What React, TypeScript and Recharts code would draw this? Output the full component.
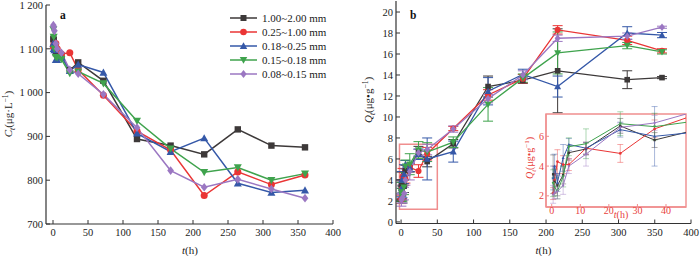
import React from 'react';
import { LineChart, Line, XAxis, YAxis, ErrorBar, ReferenceArea } from 'recharts';

const sizeLabels = ['1.00~2.00 mm', '0.25~1.00 mm', '0.18~0.25 mm', '0.15~0.18 mm', '0.08~0.15 mm'];
const seriesColors = ['#3d3939', '#ea3535', '#3558a8', '#3fa34d', '#9b77c2'];
const seriesShapes = ['square', 'circle', 'up', 'down', 'diamond'];

// panel a: concentration C_t (µg/L)
const ctTimes = [0.5, 1, 2, 4, 6, 12, 24, 36, 72, 120, 168, 216, 264, 312, 360];
const ctBlack = [1123, 1120, 1104, 1090, 1088, 1085, 1051, 1069, 1027, 894, 879, 859, 916, 879, 875];
const ctRed = [1104, 1108, 1110, 1112, 1100, 1088, 1091, 1052, 994, 912, 869, 765, 819, 790, 812];
const ctBlue = [1112, 1100, 1097, 1075, 1075, 1081, 1050, 1064, 1046, 907, 865, 896, 793, 772, 777];
const ctGreen = [1144, 1127, 1100, 1081, 1080, 1076, 1044, 1048, 1021, 935, 872, 818, 829, 800, 815];
const ctPurple = [1154, 1150, 1141, 1112, 1100, 1091, 1052, 1043, 996, 920, 822, 784, 802, 780, 759];
const ctXTicks = [0, 50, 100, 150, 200, 250, 300, 350, 400];
const ctYTicks = [700, 800, 900, 1000, 1100, 1200];

// panel b: adsorbed amount Q_t (µg/g) with error bars
const qtTimes = [0.5, 1, 2, 4, 6, 12, 24, 36, 72, 120, 168, 216, 312, 360];
const qtBlack = [3.45, 3.0, 2.7, 3.4, 4.9, 5.15, 6.7, 5.75, 7.45, 12.9, 13.5, 14.4, 13.55, 13.75];
const qtRed = [2.15, 3.1, 4.3, 4.1, 4.1, 5.2, 4.85, 6.5, 8.9, 12.1, 13.65, 18.3, 17.3, 16.3];
const qtBlue = [3.2, 4.0, 2.9, 4.55, 5.45, 5.2, 6.45, 6.0, 6.7, 12.45, 14.05, 12.9, 18.0, 17.8];
const qtGreen = [2.85, 2.6, 2.3, 3.3, 5.3, 5.5, 6.85, 6.65, 7.6, 11.2, 13.7, 16.1, 16.8, 16.2];
const qtPurple = [2.1, 2.2, 2.3, 2.7, 4.0, 4.8, 6.6, 6.9, 8.85, 11.75, 14.0, 17.5, 17.7, 18.55];
const qtBlackErr = [1.3, 0.8, 0.7, 0.6, 0.5, 0.4, 0.5, 0.5, 0.4, 1.0, 0.3, 4.0, 0.85, 0.1];
const qtRedErr = [0.4, 0.9, 0.8, 0.6, 0.4, 0.4, 0.6, 0.6, 0.2, 0.5, 0.4, 0.4, 0.4, 0.2];
const qtBlueErr = [0.8, 0.8, 0.6, 0.9, 0.4, 0.4, 0.5, 2.0, 1.0, 1.3, 0.5, 1.0, 0.6, 0.25];
const qtGreenErr = [0.9, 0.6, 0.5, 0.7, 0.6, 1.0, 0.8, 0.9, 0.5, 1.6, 0.4, 2.0, 0.3, 0.2];
const qtPurpleErr = [0.6, 0.4, 0.5, 0.6, 0.5, 0.8, 0.3, 0.5, 0.3, 0.4, 0.4, 0.3, 0.3, 0.1];
const qtXTicks = [0, 50, 100, 150, 200, 250, 300, 350, 400];
const qtYTicks = [0, 2, 4, 6, 8, 10, 12, 14, 16, 18, 20];
const insetXTicks = [0, 10, 20, 30, 40];
const insetYTicks = [2, 4, 6];

const ctSeries = [ctBlack, ctRed, ctBlue, ctGreen, ctPurple];
const qtSeries = [qtBlack, qtRed, qtBlue, qtGreen, qtPurple];
const qtErrors = [qtBlackErr, qtRedErr, qtBlueErr, qtGreenErr, qtPurpleErr];

const ctData = ctTimes.map((t, i) => {
  const row: Record<string, number> = { t };
  ctSeries.forEach((s, k) => { row[`s${k}`] = s[i]; });
  return row;
});

const qtData = qtTimes.map((t, i) => {
  const row: Record<string, number> = { t };
  qtSeries.forEach((s, k) => {
    row[`s${k}`] = s[i];
    row[`e${k}`] = qtErrors[k][i];
  });
  return row;
});

const insetData = qtData.filter((d) => d.t <= 72);

const serif = '"Liberation Serif", "Times New Roman", serif';
const axisColor = '#333';
const insetRed = '#e8413c';
const insetBox = '#f08e8e';
const tickFont = { fontSize: 10.5, fill: '#1a1a1a', fontFamily: serif };
const insetTickFont = { fontSize: 10, fill: insetRed, fontFamily: serif };

type MarkProps = { cx?: number; cy?: number; shape: string; color: string; r: number };

const Mark = ({ cx, cy, shape, color, r }: MarkProps) => {
  if (cx == null || cy == null || isNaN(cx) || isNaN(cy)) return null;
  if (shape === 'square') return <rect x={cx - r} y={cy - r} width={2 * r} height={2 * r} fill={color} />;
  if (shape === 'circle') return <circle cx={cx} cy={cy} r={r * 1.1} fill={color} />;
  if (shape === 'up') {
    const h = r * 1.25;
    return <polygon points={`${cx},${cy - h} ${cx + h},${cy + h * 0.8} ${cx - h},${cy + h * 0.8}`} fill={color} />;
  }
  if (shape === 'down') {
    const h = r * 1.25;
    return <polygon points={`${cx},${cy + h} ${cx + h},${cy - h * 0.8} ${cx - h},${cy - h * 0.8}`} fill={color} />;
  }
  return <polygon points={`${cx},${cy - r * 1.35} ${cx + r * 1.05},${cy} ${cx},${cy + r * 1.35} ${cx - r * 1.05},${cy}`} fill={color} />;
};

const fmtThousands = (v: number) =>
  v >= 1000 ? `${Math.floor(v / 1000)} ${String(v % 1000).padStart(3, '0')}` : String(v);

const frameAxes = (stroke: string, width: number, xDomain: number[], yDomain: number[]) => [
  <XAxis key="fx" xAxisId="top" orientation="top" type="number" domain={xDomain} height={0} tick={false} tickLine={false} axisLine={{ stroke, strokeWidth: width }} />,
  <YAxis key="fy" yAxisId="right" orientation="right" type="number" domain={yDomain} width={0} tick={false} tickLine={false} axisLine={{ stroke, strokeWidth: width }} />,
];

const PanelA = () => (
  <LineChart width={350} height={256} data={ctData} margin={{ top: 5, right: 17, bottom: 0, left: 0 }} style={{ fontFamily: serif }}>
    <XAxis dataKey="t" type="number" domain={[-10, 400]} ticks={ctXTicks} interval={0} allowDataOverflow height={32}
      tickSize={-4} tickMargin={9} tick={tickFont} axisLine={{ stroke: axisColor, strokeWidth: 1.2 }} tickLine={{ stroke: axisColor }} />
    <YAxis type="number" domain={[700, 1200]} ticks={ctYTicks} interval={0} allowDataOverflow width={46}
      tickSize={-4} tickMargin={7} tick={tickFont} tickFormatter={fmtThousands}
      axisLine={{ stroke: axisColor, strokeWidth: 1.2 }} tickLine={{ stroke: axisColor }} />
    {frameAxes(axisColor, 1.2, [-10, 400], [700, 1200])}
    {ctSeries.map((_, k) => (
      <Line key={k} dataKey={`s${k}`} stroke={seriesColors[k]} strokeWidth={1.5} isAnimationActive={false} activeDot={false}
        dot={(p: any) => <Mark key={`a${k}-${p.index}`} cx={p.cx} cy={p.cy} shape={seriesShapes[k]} color={seriesColors[k]} r={3.2} />} />
    ))}
  </LineChart>
);

const PanelB = () => (
  <LineChart width={350} height={256} data={qtData} margin={{ top: 1, right: 9, bottom: 0, left: 0 }} style={{ fontFamily: serif }}>
    <XAxis dataKey="t" type="number" domain={[-7, 400]} ticks={qtXTicks} interval={0} allowDataOverflow height={32.5}
      tickSize={-4} tickMargin={9} tick={tickFont} axisLine={{ stroke: axisColor, strokeWidth: 1.2 }} tickLine={{ stroke: axisColor }} />
    <YAxis type="number" domain={[-0.15, 21.05]} ticks={qtYTicks} interval={0} allowDataOverflow width={46}
      tickSize={-4} tickMargin={7} tick={tickFont} axisLine={{ stroke: axisColor, strokeWidth: 1.2 }} tickLine={{ stroke: axisColor }} />
    {frameAxes(axisColor, 1.2, [-7, 400], [-0.15, 21.05])}
    <ReferenceArea x1={-2.2} x2={50} y1={1.2} y2={7.4} fill="none" stroke={insetBox} strokeWidth={1.5} />
    {qtSeries.map((_, k) => (
      <Line key={k} dataKey={`s${k}`} stroke={seriesColors[k]} strokeWidth={1.3} isAnimationActive={false} activeDot={false}
        dot={(p: any) => <Mark key={`b${k}-${p.index}`} cx={p.cx} cy={p.cy} shape={seriesShapes[k]} color={seriesColors[k]} r={2.8} />}>
        <ErrorBar dataKey={`e${k}`} width={5} stroke={seriesColors[k]} strokeWidth={1} direction="y" isAnimationActive={false} />
      </Line>
    ))}
  </LineChart>
);

const Inset = () => (
  <LineChart width={170} height={125} data={insetData} margin={{ top: 14, right: 4, bottom: 0, left: 0 }} style={{ fontFamily: serif }}>
    <XAxis dataKey="t" type="number" domain={[-2, 47]} ticks={insetXTicks} interval={0} allowDataOverflow height={18}
      tickSize={-3} tickMargin={3} tick={insetTickFont} axisLine={{ stroke: insetBox, strokeWidth: 1.3 }} tickLine={{ stroke: insetBox }} />
    <YAxis type="number" domain={[1.25, 7.5]} ticks={insetYTicks} interval={0} allowDataOverflow width={26}
      tickSize={-3} tickMargin={5} tick={insetTickFont} axisLine={{ stroke: insetBox, strokeWidth: 1.3 }} tickLine={{ stroke: insetBox }} />
    <ReferenceArea x1={-2} x2={47} y1={1.25} y2={7.5} fill="none" stroke={insetBox} strokeWidth={1.4} ifOverflow="visible" />
    {qtSeries.map((_, k) => (
      <Line key={k} dataKey={`s${k}`} stroke={seriesColors[k]} strokeWidth={1} isAnimationActive={false} activeDot={false}
        dot={(p: any) => <Mark key={`c${k}-${p.index}`} cx={p.cx} cy={p.cy} shape={seriesShapes[k]} color={seriesColors[k]} r={1.2} />}>
        <ErrorBar dataKey={`e${k}`} width={3} stroke={`${seriesColors[k]}88`} strokeWidth={0.8} direction="y" isAnimationActive={false} />
      </Line>
    ))}
  </LineChart>
);

const Labels = () => (
  <svg width={700} height={256} style={{ position: 'absolute', left: 0, top: 0, pointerEvents: 'none', fontFamily: serif }}>
    <text x={60} y={18.5} fontSize={11.5} fontWeight="bold" fill="#111">a</text>
    <text x={410} y={18.5} fontSize={11.5} fontWeight="bold" fill="#111">b</text>

    {sizeLabels.map((lab, i) => {
      const y = 18 + i * 14;
      return (
        <g key={lab}>
          <line x1={230} x2={257} y1={y} y2={y} stroke={seriesColors[i]} strokeWidth={1.5} />
          <Mark cx={243.5} cy={y} shape={seriesShapes[i]} color={seriesColors[i]} r={3} />
          <text x={262} y={y + 3.8} fontSize={11} fill="#1a1a1a">{lab}</text>
        </g>
      );
    })}

    <text transform="translate(12,114) rotate(-90)" textAnchor="middle" fontSize={11} fill="#1a1a1a">
      <tspan fontStyle="italic">C</tspan>
      <tspan fontSize={7.5} dy={2.5} fontStyle="italic">t</tspan>
      <tspan dy={-2.5}>(μg·L</tspan>
      <tspan fontSize={7.5} dy={-4}>−1</tspan>
      <tspan dy={4}>)</tspan>
    </text>
    <text x={190} y={253.5} textAnchor="middle" fontSize={11} fill="#1a1a1a">
      <tspan fontStyle="italic">t</tspan>(h)
    </text>

    <text transform="translate(372,100) rotate(-90)" textAnchor="middle" fontSize={11} fill="#1a1a1a">
      <tspan fontStyle="italic">Q</tspan>
      <tspan fontSize={7.5} dy={2.5} fontStyle="italic">t</tspan>
      <tspan dy={-2.5}>(μg•g</tspan>
      <tspan fontSize={7.5} dy={-4}>−1</tspan>
      <tspan dy={4}>)</tspan>
    </text>
    <text x={543.5} y={253.5} textAnchor="middle" fontSize={11} fill="#1a1a1a">
      <tspan fontStyle="italic">t</tspan>(h)
    </text>

    <text transform="translate(533,158) rotate(-90)" textAnchor="middle" fontSize={10} fill={insetRed}>
      <tspan fontStyle="italic">Q</tspan>
      <tspan fontSize={7} dy={2.5} fontStyle="italic">t</tspan>
      <tspan dy={-2.5}>(μg•g</tspan>
      <tspan fontSize={7} dy={-4}>−1</tspan>
      <tspan dy={4}>)</tspan>
    </text>
    <text x={621} y={218} textAnchor="middle" fontSize={10} fill={insetRed}>
      <tspan fontStyle="italic">t</tspan>(h)
    </text>
  </svg>
);

export default function App() {
  return (
    <div style={{ position: 'absolute', left: 0, top: 0, width: 700, height: 256, background: '#fff', fontFamily: serif }}>
      <div style={{ position: 'absolute', left: 0, top: 0 }}><PanelA /></div>
      <div style={{ position: 'absolute', left: 350, top: 0 }}><PanelB /></div>
      <div style={{ position: 'absolute', left: 546, top: 114, width: 140, height: 93, background: '#fff' }} />
      <div style={{ position: 'absolute', left: 520, top: 100 }}><Inset /></div>
      <Labels />
    </div>
  );
}
